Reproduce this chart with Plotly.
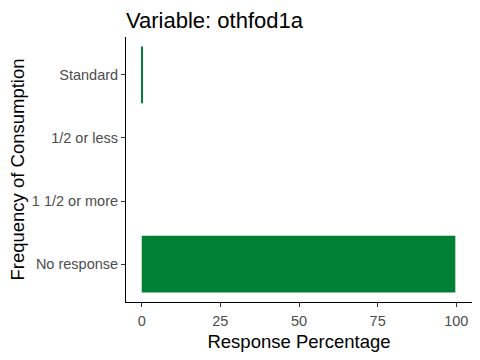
import plotly.graph_objects as go

categories = ["Standard", "1/2 or less", "1 1/2 or more", "No response"]
values = [0.3, 0.0, 0.0, 99.7]
x_ticks = [0, 25, 50, 75, 100]

fig = go.Figure(go.Bar(
    y=categories, x=values, orientation="h",
    marker=dict(color="#008034", line=dict(width=0)),
    width=0.9,
))

fig.update_layout(
    width=480, height=360,
    margin=dict(l=126, r=8, t=37, b=58, autoexpand=False),
    paper_bgcolor="white", plot_bgcolor="white",
    font=dict(family="Liberation Sans, Arial, sans-serif"),
    title=dict(text="Variable: othfod1a", x=126/480, xanchor="left",
               y=1 - 20/360, yanchor="middle",
               font=dict(size=22, color="black")),
    showlegend=False,
    bargap=0.1,
)
fig.update_xaxes(
    range=[-5, 105], tickvals=x_ticks, ticktext=[str(v) for v in x_ticks],
    showgrid=False, zeroline=False, automargin=False,
    showline=True, linecolor="black", linewidth=1,
    ticks="outside", ticklen=4, tickcolor="#333333", ticklabelstandoff=2,
    tickfont=dict(size=14.5, color="#4D4D4D"),
    title=dict(text="Response Percentage", font=dict(size=18.5, color="black"), standoff=6),
)
fig.update_yaxes(
    categoryorder="array", categoryarray=categories[::-1],
    range=[-0.6, 3.6],
    showgrid=False, zeroline=False, automargin=False,
    showline=True, linecolor="black", linewidth=1,
    ticks="outside", ticklen=4, tickcolor="#333333",
    tickfont=dict(size=14.5, color="#4D4D4D"),
    title=dict(text="Frequency of Consumption", font=dict(size=18.5, color="black"), standoff=2),
)

fig.write_html("out.html", config={"displayModeBar": False},
               post_script="document.body.style.margin='0';document.body.style.overflow='hidden';")
